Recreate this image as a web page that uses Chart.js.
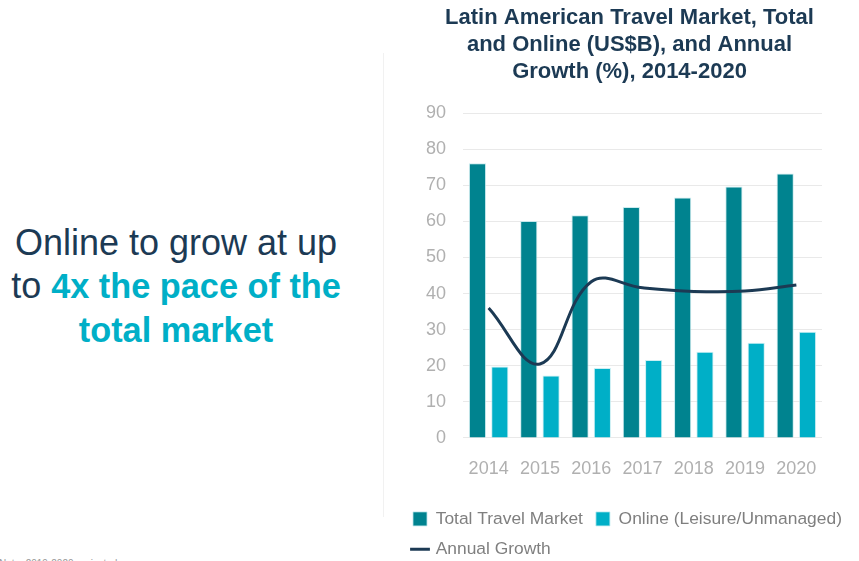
<!DOCTYPE html>
<html>
<head>
<meta charset="utf-8">
<script src="https://cdn.jsdelivr.net/npm/chart.js@4"></script>
<style>
  html, body { margin: 0; padding: 0; background: #fff; overflow: hidden; }
  body { width: 859px; height: 561px; position: relative; font-family: "Liberation Sans", Arial, sans-serif; }
  .headline {
    position: absolute; left: 0; top: 221px; width: 352px;
    text-align: center; font-size: 36px; line-height: 43px; color: #1c3a54;
    white-space: nowrap;
  }
  .headline b { color: #00afc7; font-size: 34.3px; }
  .divider { position: absolute; left: 383px; top: 53px; width: 1px; height: 464px; background: #f1f1f1; }
  .note { position: absolute; left: -1px; top: 558px; font-size: 10px; color: #9a9a9a; white-space: nowrap; }
  .chart-wrap { position: absolute; left: 400px; top: 0; width: 459px; height: 568px; }
</style>
</head>
<body>
<div class="headline">Online to grow at up<br>to <b>4x the pace of the<br>total market</b></div>
<div class="divider"></div>
<div class="note">Note: 2019-2020 projected</div>
<div class="chart-wrap"><canvas id="travelChart"></canvas></div>

<script>
// values
const years = ['2014', '2015', '2016', '2017', '2018', '2019', '2020'];
const totalMarket = [76.1, 60.1, 61.7, 64.0, 66.6, 69.7, 73.3];
const onlineMarket = [19.8, 17.3, 19.4, 21.6, 23.9, 26.4, 29.4];
const annualGrowth = [36.0, 20.5, 43.3, 41.6, 40.6, 40.7, 42.4];
const yTicks = [0, 10, 20, 30, 40, 50, 60, 70, 80, 90];

const navy = '#1c3a54';
const tickGrey = '#b0b0b0';

const ctx = document.getElementById('travelChart').getContext('2d');
new Chart(ctx, {
    data: {
        labels: years,
        datasets: [
            {
                type: 'line',
                label: 'Annual Growth',
                data: annualGrowth,
                yAxisID: 'y1',
                borderColor: navy,
                backgroundColor: navy,
                borderWidth: 3,
                pointRadius: 0,
                tension: 0.4,
                pointStyle: 'line',
                order: 0
            },
            {
                type: 'bar',
                label: 'Total Travel Market',
                data: totalMarket,
                backgroundColor: '#00838f',
                borderColor: 'rgba(190,230,235,0.8)',
                borderWidth: 1,
                barPercentage: 0.77,
                categoryPercentage: 0.87,
                pointStyle: 'rect',
                order: 1
            },
            {
                type: 'bar',
                label: 'Online (Leisure/Unmanaged)',
                data: onlineMarket,
                backgroundColor: '#00afc7',
                borderColor: 'rgba(190,235,240,0.8)',
                borderWidth: 1,
                barPercentage: 0.77,
                categoryPercentage: 0.87,
                pointStyle: 'rect',
                order: 2
            }
        ]
    },
    options: {
        responsive: true,
        maintainAspectRatio: false,
        animation: false,
        layout: { padding: 0 },
        plugins: {
            title: {
                display: true,
                text: ['Latin American Travel Market, Total', 'and Online (US$B), and Annual', 'Growth (%), 2014-2020'],
                color: navy,
                font: { family: '"Liberation Sans", Arial', size: 22, weight: 'bold', lineHeight: 1.23 },
                padding: { top: 4, bottom: 28 }
            },
            legend: {
                position: 'bottom',
                align: 'start',
                labels: {
                    usePointStyle: true,
                    boxWidth: 14,
                    boxHeight: 14,
                    padding: 13,
                    color: '#7f7f7f',
                    font: { family: '"Liberation Sans", Arial', size: 17.4 },
                    sort: (a, b) => (a.datasetIndex === 0) - (b.datasetIndex === 0)
                }
            },
            tooltip: { enabled: false }
        },
        scales: {
            x: {
                grid: { display: false },
                border: { display: false },
                ticks: {
                    color: tickGrey,
                    padding: 12,
                    font: { family: '"Liberation Sans", Arial', size: 18 }
                },
                afterFit: (scale) => { scale.height = 59.3; }
            },
            y: {
                min: 0,
                max: 90,
                afterBuildTicks: (scale) => { scale.ticks = yTicks.map(v => ({ value: v })); },
                grid: { color: '#e9e9e9', lineWidth: 1, drawTicks: false },
                border: { display: false },
                ticks: {
                    color: tickGrey,
                    padding: 17,
                    font: { family: '"Liberation Sans", Arial', size: 18 }
                },
                afterFit: (scale) => { scale.width = 63; }
            },
            y1: {
                position: 'right',
                min: 0,
                max: 90,
                grid: { display: false },
                border: { display: false },
                ticks: { display: false },
                afterFit: (scale) => { scale.width = 37; }
            }
        }
    }
});
</script>
</body>
</html>
